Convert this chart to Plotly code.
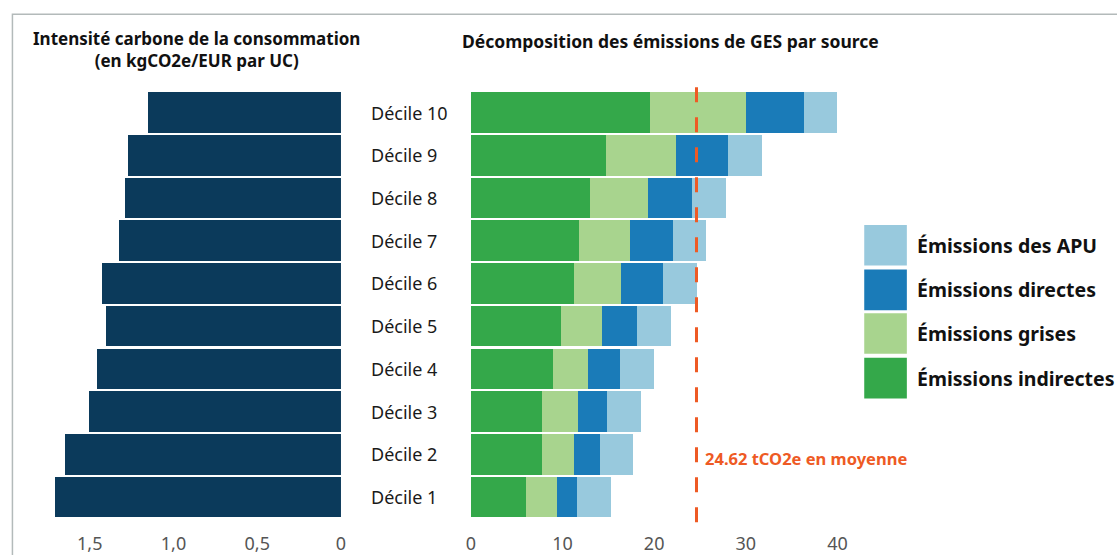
import plotly.graph_objects as go

W, H = 1117, 555

deciles = ["Décile 1", "Décile 2", "Décile 3", "Décile 4", "Décile 5",
           "Décile 6", "Décile 7", "Décile 8", "Décile 9", "Décile 10"]
intensite = [1.71, 1.645, 1.503, 1.456, 1.402, 1.426, 1.325, 1.290, 1.272, 1.154]

indirectes = [6.05, 7.78, 7.78, 8.97, 9.84, 11.25, 11.80, 13.00, 14.70, 19.57]
grises = [3.35, 3.46, 3.90, 3.79, 4.46, 5.15, 5.60, 6.35, 7.70, 10.48]
directes = [2.17, 2.81, 3.22, 3.54, 3.86, 4.60, 4.65, 4.80, 5.70, 6.27]
apu = [3.67, 3.65, 3.70, 3.70, 3.64, 3.65, 3.65, 3.65, 3.70, 3.68]
moyenne = 24.62

left_ticks = [0, 0.5, 1.0, 1.5]
left_ticktext = ["0", "0,5", "1,0", "1,5"]
right_ticks = [0, 10, 20, 30, 40]

series = [
    ("Émissions indirectes", indirectes, "#34A84A"),
    ("Émissions grises", grises, "#A8D48E"),
    ("Émissions directes", directes, "#1A7BB8"),
    ("Émissions des APU", apu, "#98C9DD"),
]

FONT = "Noto Sans"
px = lambda x: x / W
py = lambda y: 1 - y / H

fig = go.Figure()
fig.add_trace(go.Bar(y=deciles, x=intensite, orientation="h",
                     marker=dict(color="#0B3A5B", line=dict(width=0)),
                     xaxis="x", yaxis="y", showlegend=False))
for name, vals, col in series:
    fig.add_trace(go.Bar(y=deciles, x=vals, orientation="h", name=name,
                         marker=dict(color=col, line=dict(width=0)),
                         xaxis="x2", yaxis="y2", showlegend=False))

ydom = [py(523), py(92)]
tickstyle = dict(showgrid=False, zeroline=False, showline=False, ticks="outside",
                 ticklen=9, tickcolor="rgba(0,0,0,0)", tickfont=dict(size=18, color="#555"))
fig.update_layout(
    width=W, height=H,
    margin=dict(l=0, r=0, t=0, b=0),
    paper_bgcolor="white", plot_bgcolor="white",
    barmode="stack", bargap=0.05,
    font=dict(family=FONT, size=16, color="#222"),
    xaxis=dict(domain=[px(34.8), px(339)], range=[1.8, 0], tickvals=left_ticks,
               ticktext=left_ticktext, anchor="y", **tickstyle),
    yaxis=dict(domain=ydom, type="category", categoryorder="array", categoryarray=deciles,
               range=[-0.5, 9.5], showticklabels=False, showgrid=False, zeroline=False,
               ticks="", anchor="x"),
    xaxis2=dict(domain=[px(470), px(877)], range=[0, 44], tickvals=right_ticks,
                anchor="y2", **tickstyle),
    yaxis2=dict(domain=ydom, type="category", categoryorder="array", categoryarray=deciles,
                range=[-0.5, 9.5], showticklabels=False, showgrid=False, zeroline=False,
                ticks="", anchor="x2"),
)

shapes = []
# frame
shapes.append(dict(type="rect", xref="paper", yref="paper", x0=px(7.5), x1=px(1140),
                   y0=py(620), y1=py(14.5), line=dict(color="#B3BABA", width=1.5),
                   fillcolor="rgba(0,0,0,0)", layer="below"))
# average line
shapes.append(dict(type="line", xref="x2", yref="paper", x0=moyenne, x1=moyenne,
                   y0=py(527), y1=py(87), line=dict(color="#EE5A24", width=3, dash="15px,15px")))
# legend swatches
leg_rows = [(227, 268), (272, 313), (316, 357), (361, 402)]
leg_items = list(reversed(series))
annotations = []
for (y0, y1), (name, _, col) in zip(leg_rows, leg_items):
    shapes.append(dict(type="rect", xref="paper", yref="paper", x0=px(867), x1=px(910),
                       y0=py(y1), y1=py(y0), fillcolor=col, line=dict(width=0)))
    annotations.append(dict(xref="paper", yref="paper", x=px(918), y=py((y0 + y1) / 2),
                            text="<b>%s</b>" % name, showarrow=False, xanchor="left",
                            yanchor="middle", font=dict(size=19.5, color="#111", family=FONT)))

for d in deciles:
    annotations.append(dict(xref="paper", yref="y2", x=px(367), y=d, text=d, showarrow=False,
                            xanchor="left", yanchor="middle",
                            font=dict(size=18, color="#1a1a1a", family=FONT)))

annotations.append(dict(xref="paper", yref="paper", x=px(193), y=py(50),
                        text="<b>Intensité carbone de la consommation<br>(en kgCO2e/EUR par UC)</b>",
                        showarrow=False, xanchor="center", yanchor="middle", align="center",
                        font=dict(size=17, color="#111", family=FONT)))
annotations.append(dict(xref="paper", yref="paper", x=px(459), y=py(41),
                        text="<b>Décomposition des émissions de GES par source</b>",
                        showarrow=False, xanchor="left", yanchor="middle",
                        font=dict(size=17.5, color="#111", family=FONT)))
annotations.append(dict(xref="x2", yref="paper", x=moyenne, y=py(463),
                        text="<b>24.62 tCO2e en moyenne</b>", showarrow=False,
                        xanchor="left", yanchor="middle", xshift=7,
                        font=dict(size=16.5, color="#EE5A24", family=FONT)))

fig.update_layout(shapes=shapes, annotations=annotations)
fig.write_html("out.html", config={"displayModeBar": False},
               post_script="document.body.style.margin='0';document.body.style.overflow='hidden';")
